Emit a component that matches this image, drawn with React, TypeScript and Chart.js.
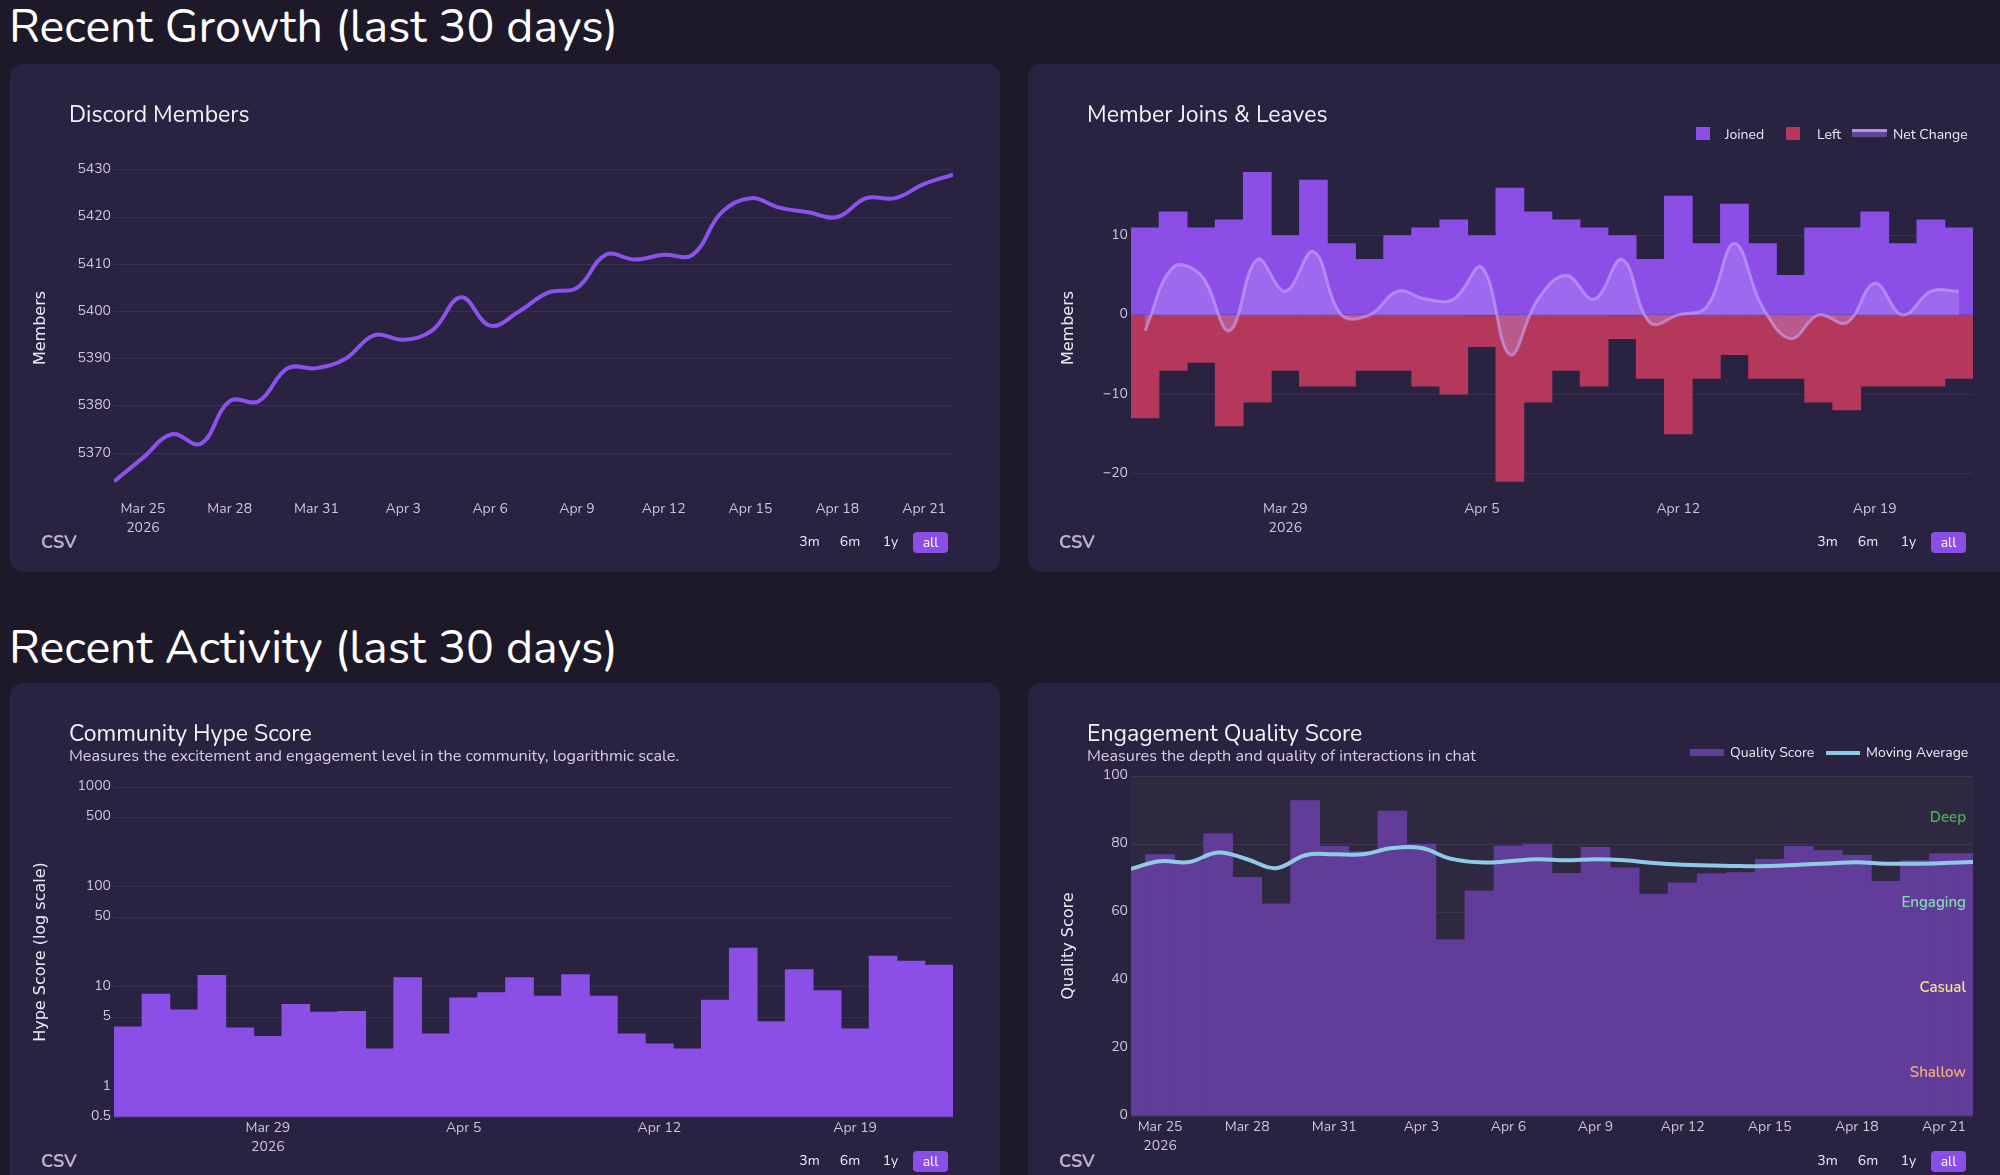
import React, { useEffect, useRef } from 'react';
import { Chart, registerables } from 'chart.js';

Chart.register(...registerables);

// ---------- data ----------
const days = ['Mar 24', 'Mar 25', 'Mar 26', 'Mar 27', 'Mar 28', 'Mar 29', 'Mar 30', 'Mar 31', 'Apr 1', 'Apr 2', 'Apr 3', 'Apr 4', 'Apr 5', 'Apr 6', 'Apr 7', 'Apr 8', 'Apr 9', 'Apr 10', 'Apr 11', 'Apr 12', 'Apr 13', 'Apr 14', 'Apr 15', 'Apr 16', 'Apr 17', 'Apr 18', 'Apr 19', 'Apr 20', 'Apr 21', 'Apr 22'];
const yearLabel = '2026';

const members = [5364, 5369, 5374, 5372, 5381, 5381, 5388, 5388, 5390, 5395, 5394, 5396, 5403, 5397, 5400, 5404, 5405, 5412, 5411, 5412, 5412, 5421, 5424, 5422, 5421, 5420, 5424, 5424, 5427, 5429];

const joined = [11, 13, 11, 12, 18, 10, 17, 9, 7, 10, 11, 12, 10, 16, 13, 12, 11, 10, 7, 15, 9, 14, 9, 5, 11, 11, 13, 9, 12, 11];
const leftMembers = [-13, -7, -6, -14, -11, -7, -9, -9, -7, -7, -9, -10, -4, -21, -11, -7, -9, -3, -8, -15, -8, -5, -8, -8, -11, -12, -9, -9, -9, -8];
const netChange = [-2, 6, 5, -2, 7, 3, 8, 0, 0, 3, 2, 2, 6, -5, 2, 5, 2, 7, -1, 0, 1, 9, 1, -3, 0, -1, 4, 0, 3, 3];

const hype = [4.0, 8.5, 5.9, 13.1, 3.9, 3.2, 6.7, 5.6, 5.7, 2.4, 12.4, 3.4, 7.8, 8.8, 12.4, 8.1, 13.3, 8.1, 3.4, 2.7, 2.4, 7.4, 24.5, 4.5, 14.9, 9.2, 3.8, 20.4, 18.1, 16.5];

const quality = [73.0, 76.9, 74.9, 83.0, 70.2, 62.4, 92.8, 79.3, 77.8, 89.7, 80.0, 51.9, 66.2, 79.4, 80.0, 71.4, 79.0, 73.0, 65.3, 68.6, 71.2, 71.6, 75.5, 79.3, 78.1, 76.7, 69.0, 75.1, 77.1, 77.2];
const movingAvg = [72.7, 74.9, 74.7, 77.5, 75.5, 72.9, 76.7, 77.0, 77.0, 78.8, 78.8, 75.7, 74.6, 74.9, 75.5, 75.2, 75.5, 75.2, 74.4, 73.9, 73.7, 73.5, 73.5, 73.9, 74.3, 74.6, 74.2, 74.2, 74.4, 74.7];

const threeDayTicks = ['Mar 25', 'Mar 28', 'Mar 31', 'Apr 3', 'Apr 6', 'Apr 9', 'Apr 12', 'Apr 15', 'Apr 18', 'Apr 21'];
const weekTicks = ['Mar 29', 'Apr 5', 'Apr 12', 'Apr 19'];

const membersTicks = [5370, 5380, 5390, 5400, 5410, 5420, 5430];
const joinTicks = [10, 0, -10, -20];
const hypeTicks = [0.5, 1, 5, 10, 50, 100, 500, 1000];
const qualityTicks = [0, 20, 40, 60, 80, 100];

const bandLabels = ['Shallow', 'Casual', 'Engaging', 'Deep'];
const bandEdges = [0, 25, 50, 75, 100];
const bandColors = ['#f2ad78', '#f3e38c', '#86d9b4', '#4fae55'];

const rangeButtons = ['3m', '6m', '1y', 'all'];

// ---------- styles ----------
const FONT = 'Nunito, Lato, "Open Sans", sans-serif';
const TICK = '#cdc6d9';
const GRID = 'rgba(255,255,255,0.07)';
const CARD_BG = '#2a2241';
const PAGE_BG = '#1e1929';
const H = 508;

const pts = (vals: number[]) => vals.map((y, x) => ({ x, y }));

function xScale(min: number, max: number, tickDays: string[]) {
  const idx = tickDays.map((d) => days.indexOf(d));
  const labels = tickDays.map((d, i) => (i === 0 ? [d, yearLabel] : d));
  return {
    type: 'linear',
    min,
    max,
    offset: false,
    afterBuildTicks: (s: any) => {
      s.ticks = idx.map((v) => ({ value: v }));
    },
    afterFit: (s: any) => {
      s.height = 60;
    },
    ticks: {
      autoSkip: false,
      maxRotation: 0,
      minRotation: 0,
      padding: 3,
      color: TICK,
      font: { family: FONT, size: 14, lineHeight: 1.3 },
      callback: (_v: any, i: number) => labels[i],
    },
    grid: { display: false, drawTicks: false, offset: false },
    border: { display: false },
  };
}

function yScale(o: { type?: string; min: number; max: number; ticks: number[]; title: string; width: number; fmt?: (v: number) => string }) {
  return {
    type: o.type || 'linear',
    min: o.min,
    max: o.max,
    afterBuildTicks: (s: any) => {
      s.ticks = o.ticks.map((v) => ({ value: v }));
    },
    afterFit: (s: any) => {
      s.width = o.width;
    },
    ticks: {
      padding: 3,
      color: TICK,
      font: { family: FONT, size: 14 },
      callback: (v: any) => (o.fmt ? o.fmt(Number(v)) : String(v)),
    },
    grid: { color: GRID, lineWidth: 1, drawTicks: false },
    border: { display: false },
    title: {
      display: true,
      text: o.title,
      color: '#ece8f2',
      font: { family: '"DejaVu Sans", sans-serif', size: 16, lineHeight: 1.2 },
      padding: 0,
    },
  };
}

const baseOptions = (padding: any) => ({
  responsive: false,
  maintainAspectRatio: false,
  animation: false,
  events: [],
  layout: { padding },
  plugins: { legend: { display: false }, tooltip: { enabled: false }, title: { display: false } },
});

// ---------- chart configs ----------
const membersConfig = () => ({
  type: 'line',
  data: {
    datasets: [
      {
        data: pts(members),
        borderColor: '#8c52ec',
        borderWidth: 4,
        tension: 0.4,
        pointRadius: 0,
        fill: false,
      },
    ],
  },
  options: {
    ...baseOptions({ left: 21.4, right: 47, top: 94, bottom: 14 }),
    scales: {
      x: xScale(0, 29, threeDayTicks),
      y: yScale({ min: 5360.5, max: 5432.5, ticks: membersTicks, title: 'Members', width: 82.6 }),
    },
  },
});

const joinsConfig = () => ({
  type: 'bar',
  data: {
    datasets: [
      {
        type: 'line',
        label: 'Net Change',
        data: pts(netChange),
        borderColor: 'rgba(205,175,255,0.55)',
        backgroundColor: 'rgba(200,170,255,0.3)',
        borderWidth: 3,
        tension: 0.4,
        pointRadius: 0,
        fill: 'origin',
        order: 0,
      },
      {
        type: 'bar',
        label: 'Joined',
        data: pts(joined),
        backgroundColor: '#8b4fe8',
        borderWidth: 0,
        barPercentage: 1,
        categoryPercentage: 1,
        grouped: false,
        order: 1,
      },
      {
        type: 'bar',
        label: 'Left',
        data: pts(leftMembers),
        backgroundColor: '#b4385c',
        borderWidth: 0,
        barPercentage: 1,
        categoryPercentage: 1,
        grouped: false,
        order: 2,
      },
    ],
  },
  options: {
    ...baseOptions({ left: 31.4, right: 47, top: 94, bottom: 14 }),
    scales: {
      x: xScale(-0.5, 29.5, weekTicks),
      y: yScale({
        min: -23.1,
        max: 19.8,
        ticks: joinTicks,
        title: 'Members',
        width: 71.6,
        fmt: (v) => (v < 0 ? '\u2212' + Math.abs(v) : String(v)),
      }),
    },
  },
});

const hypeConfig = () => ({
  type: 'bar',
  data: {
    datasets: [
      {
        label: 'Hype',
        data: pts(hype),
        backgroundColor: '#8b4fe8',
        borderWidth: 0,
        barPercentage: 1,
        categoryPercentage: 1,
        base: 0.5,
      },
    ],
  },
  options: {
    ...baseOptions({ left: 21.4, right: 47, top: 104, bottom: 14 }),
    scales: {
      x: xScale(-0.5, 29.5, weekTicks),
      y: yScale({ type: 'logarithmic', min: 0.5, max: 1000, ticks: hypeTicks, title: 'Hype Score (log scale)', width: 82.6 }),
    },
  },
});

const qualityPlugin = {
  id: 'qualityBands',
  beforeDraw(chart: any) {
    const { ctx, chartArea: a } = chart;
    ctx.save();
    ctx.fillStyle = '#2e2840';
    ctx.fillRect(a.left, a.top, a.right - a.left, a.bottom - a.top);
    ctx.restore();
  },
  afterDatasetsDraw(chart: any) {
    const { ctx, chartArea: a } = chart;
    const y = chart.scales.y;
    ctx.save();
    ctx.font = `600 15px ${FONT}`;
    ctx.textAlign = 'right';
    ctx.textBaseline = 'middle';
    bandLabels.forEach((lbl, i) => {
      const mid = (bandEdges[i] + bandEdges[i + 1]) / 2;
      ctx.fillStyle = bandColors[i];
      ctx.fillText(lbl, a.right - 7, y.getPixelForValue(mid));
    });
    ctx.restore();
  },
};

const qualityConfig = () => ({
  type: 'bar',
  data: {
    datasets: [
      {
        type: 'line',
        label: 'Moving Average',
        data: pts(movingAvg),
        borderColor: '#8ecae6',
        borderWidth: 4,
        tension: 0.4,
        pointRadius: 0,
        fill: false,
        order: 0,
      },
      {
        type: 'bar',
        label: 'Quality Score',
        data: pts(quality),
        backgroundColor: '#613d99',
        borderWidth: 0,
        barPercentage: 1,
        categoryPercentage: 1,
        order: 1,
      },
    ],
  },
  options: {
    ...baseOptions({ left: 31.4, right: 47, top: 93, bottom: 15 }),
    scales: {
      x: xScale(0, 29, threeDayTicks),
      y: yScale({ min: 0, max: 100, ticks: qualityTicks, title: 'Quality Score', width: 71.6 }),
    },
  },
  plugins: [qualityPlugin],
});

// ---------- components ----------
function ChartCanvas({ width, height, make }: { width: number; height: number; make: () => any }) {
  const ref = useRef<HTMLCanvasElement>(null);
  useEffect(() => {
    const chart = new Chart(ref.current as HTMLCanvasElement, make());
    return () => chart.destroy();
  }, []);
  return (
    <canvas
      ref={ref}
      width={width}
      height={height}
      style={{ position: 'absolute', left: 0, top: 0, width, height, display: 'block' }}
    />
  );
}

const txt = (extra: any) => ({ position: 'absolute' as const, fontFamily: FONT, lineHeight: 1, whiteSpace: 'nowrap' as const, ...extra });

function Card({ left, top, w, title, subtitle, legend, make }: any) {
  return (
    <div
      style={{
        position: 'absolute',
        left,
        top,
        width: w,
        height: H,
        background: CARD_BG,
        borderRadius: 13,
        overflow: 'hidden',
      }}
    >
      <ChartCanvas width={w} height={H} make={make} />
      <div style={txt({ left: 59, top: 38.6, fontSize: 23, color: '#f4f1f8' })}>{title}</div>
      {subtitle && <div style={txt({ left: 59, top: 64.7, fontSize: 16.2, color: '#d6d0e0' })}>{subtitle}</div>}
      {legend}
      <div style={txt({ left: 31, top: 468.5, fontSize: 18, fontWeight: 700, color: '#b9b2c5' })}>CSV</div>
      {rangeButtons.map((b, i) =>
        b === 'all' ? (
          <div
            key={b}
            style={txt({
              left: 903,
              top: 468,
              width: 35,
              height: 21,
              lineHeight: '21px',
              textAlign: 'center',
              fontSize: 14,
              color: '#ffffff',
              background: '#8b4fe8',
              borderRadius: 4,
            })}
          >
            {b}
          </div>
        ) : (
          <div key={b} style={txt({ left: 784.5 + i * 40.5, top: 471, width: 30, textAlign: 'center', fontSize: 14, color: '#f0ecf5' })}>
            {b}
          </div>
        )
      )}
    </div>
  );
}

const legendText = (left: number, top: number, s: string) => (
  <div style={txt({ left, top, fontSize: 14, color: '#eeeaf3' })}>{s}</div>
);

const joinsLegend = (
  <>
    <div style={{ position: 'absolute', left: 668, top: 63, width: 14, height: 13, background: '#8b4fe8' }} />
    {legendText(697, 63.5, 'Joined')}
    <div style={{ position: 'absolute', left: 758, top: 63, width: 14, height: 13, background: '#b4385c' }} />
    {legendText(789, 63.5, 'Left')}
    <div
      style={{
        position: 'absolute',
        left: 824,
        top: 65,
        width: 35,
        height: 5,
        borderTop: '3px solid rgba(190,155,250,0.9)',
        background: 'rgba(120,90,180,0.7)',
      }}
    />
    {legendText(865, 63.5, 'Net Change')}
  </>
);

const qualityLegend = (
  <>
    <div style={{ position: 'absolute', left: 662, top: 66, width: 34, height: 7, background: '#613d99' }} />
    {legendText(702, 62.5, 'Quality Score')}
    <div style={{ position: 'absolute', left: 798, top: 68, width: 34, height: 4, background: '#8ecae6' }} />
    {legendText(838, 62.5, 'Moving Average')}
  </>
);

export default function App() {
  return (
    <div
      style={{
        position: 'absolute',
        left: 0,
        top: 0,
        width: 2000,
        height: 1175,
        overflow: 'hidden',
        background: PAGE_BG,
        fontFamily: FONT,
      }}
    >
      <div style={txt({ left: 9, top: 4, fontSize: 46.5, color: '#ffffff' })}>Recent Growth (last 30 days)</div>
      <Card left={10} top={64} w={990} title="Discord Members" make={membersConfig} />
      <Card left={1028} top={64} w={992} title="Member Joins & Leaves" legend={joinsLegend} make={joinsConfig} />
      <div style={txt({ left: 9, top: 625, fontSize: 46.5, color: '#ffffff' })}>Recent Activity (last 30 days)</div>
      <Card
        left={10}
        top={683}
        w={990}
        title="Community Hype Score"
        subtitle="Measures the excitement and engagement level in the community, logarithmic scale."
        make={hypeConfig}
      />
      <Card
        left={1028}
        top={683}
        w={992}
        title="Engagement Quality Score"
        subtitle="Measures the depth and quality of interactions in chat"
        legend={qualityLegend}
        make={qualityConfig}
      />
    </div>
  );
}
